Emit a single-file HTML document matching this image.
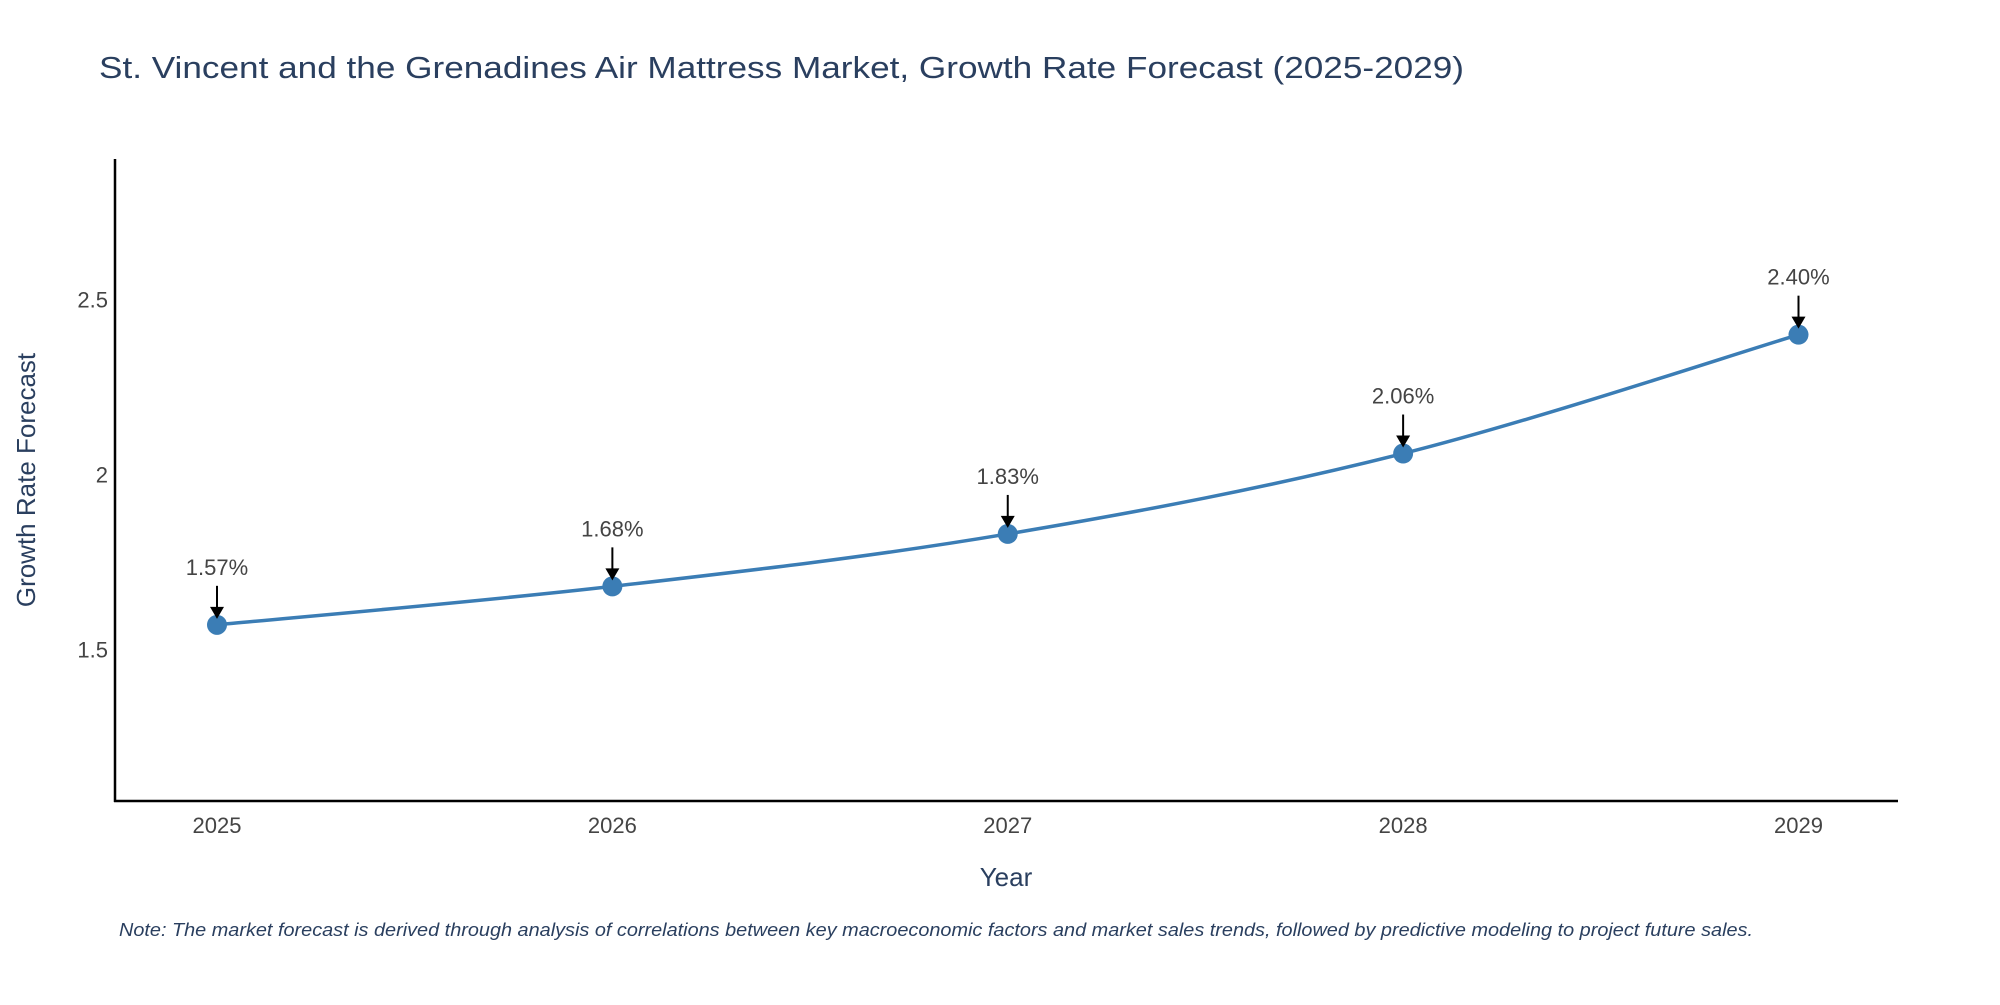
<!DOCTYPE html>
<html><head><meta charset="utf-8"><style>
body{margin:0;background:#fff;}
svg{font-family:"Liberation Sans","DejaVu Sans",sans-serif;}
</style></head><body>
<svg id="chart" width="2000" height="1000" xmlns="http://www.w3.org/2000/svg">
<text x="99" y="78" font-size="31" fill="#2a3f5f" textLength="1365" lengthAdjust="spacingAndGlyphs">St. Vincent and the Grenadines Air Mattress Market, Growth Rate Forecast (2025-2029)</text>
<g id="marks"></g>
<line x1="115" y1="159" x2="115" y2="802" stroke="#000" stroke-width="2.5"/>
<line x1="114" y1="801" x2="1898" y2="801" stroke="#000" stroke-width="2.5"/>
<text x="1006" y="886" font-size="26" fill="#2a3f5f" text-anchor="middle">Year</text>
<text transform="translate(35,480) rotate(-90)" font-size="26" fill="#2a3f5f" text-anchor="middle">Growth Rate Forecast</text>
<text x="119" y="936" font-size="18" font-style="italic" fill="#2a3f5f" textLength="1634" lengthAdjust="spacingAndGlyphs">Note: The market forecast is derived through analysis of correlations between key macroeconomic factors and market sales trends, followed by predictive modeling to project future sales.</text>
</svg>
<script>
const years = ['2025','2026','2027','2028','2029'];
const values = [1.57, 1.68, 1.83, 2.06, 2.40];
const valueLabels = ['1.57%','1.68%','1.83%','2.06%','2.40%'];
const yTicks = [1.5, 2, 2.5];
const yTickLabels = ['1.5','2','2.5'];

const NS='http://www.w3.org/2000/svg';
const g=document.getElementById('marks');
const svg=document.getElementById('chart');
function xs(i){return 217+i*(1798.5-217)/(years.length-1);}
function ys(v){return 474.5-(v-2)*349.6;}
function mk(tag,attrs){const e=document.createElementNS(NS,tag);for(const k in attrs)e.setAttribute(k,attrs[k]);return e;}

yTicks.forEach((t,i)=>{
  const e=mk('text',{x:108,y:ys(t)+8,'font-size':22,fill:'#444','text-anchor':'end'});
  
  
  e.textContent=yTickLabels[i];svg.appendChild(e);
});
years.forEach((y,i)=>{
  const e=mk('text',{x:xs(i),y:833,'font-size':22,fill:'#444','text-anchor':'middle'});
  
  
  e.textContent=y;svg.appendChild(e);
});
const pts=values.map((v,i)=>[xs(i),ys(v)]);
let d='M'+pts[0][0]+','+pts[0][1];
for(let i=0;i<pts.length-1;i++){
  const p0=pts[Math.max(0,i-1)],p1=pts[i],p2=pts[i+1],p3=pts[Math.min(pts.length-1,i+2)];
  const t=0.17;
  const c1=[p1[0]+(p2[0]-p0[0])*t,p1[1]+(p2[1]-p0[1])*t];
  const c2=[p2[0]-(p3[0]-p1[0])*t,p2[1]-(p3[1]-p1[1])*t];
  d+=' C'+c1+' '+c2+' '+p2;
}
const line=mk('path',{d:d,fill:'none',stroke:'#3b7db5','stroke-width':3.5});


g.appendChild(line);
pts.forEach((p,i)=>{
  const c=mk('circle',{cx:p[0],cy:p[1],r:10,fill:'#3b7db5'});
  
  
  g.appendChild(c);
  const a=mk('line',{x1:p[0],y1:p[1]-39,x2:p[0],y2:p[1]-14,stroke:'#000','stroke-width':2});
  
  
  g.appendChild(a);
  const h=mk('polygon',{points:`${p[0]-7},${p[1]-18} ${p[0]+7},${p[1]-18} ${p[0]},${p[1]-6}`,fill:'#000'});
  
  
  g.appendChild(h);
  const t=mk('text',{x:p[0],y:p[1]-50,'font-size':22,fill:'#444','text-anchor':'middle'});
  
  
  t.textContent=valueLabels[i];g.appendChild(t);
});
</script>
</body></html>
